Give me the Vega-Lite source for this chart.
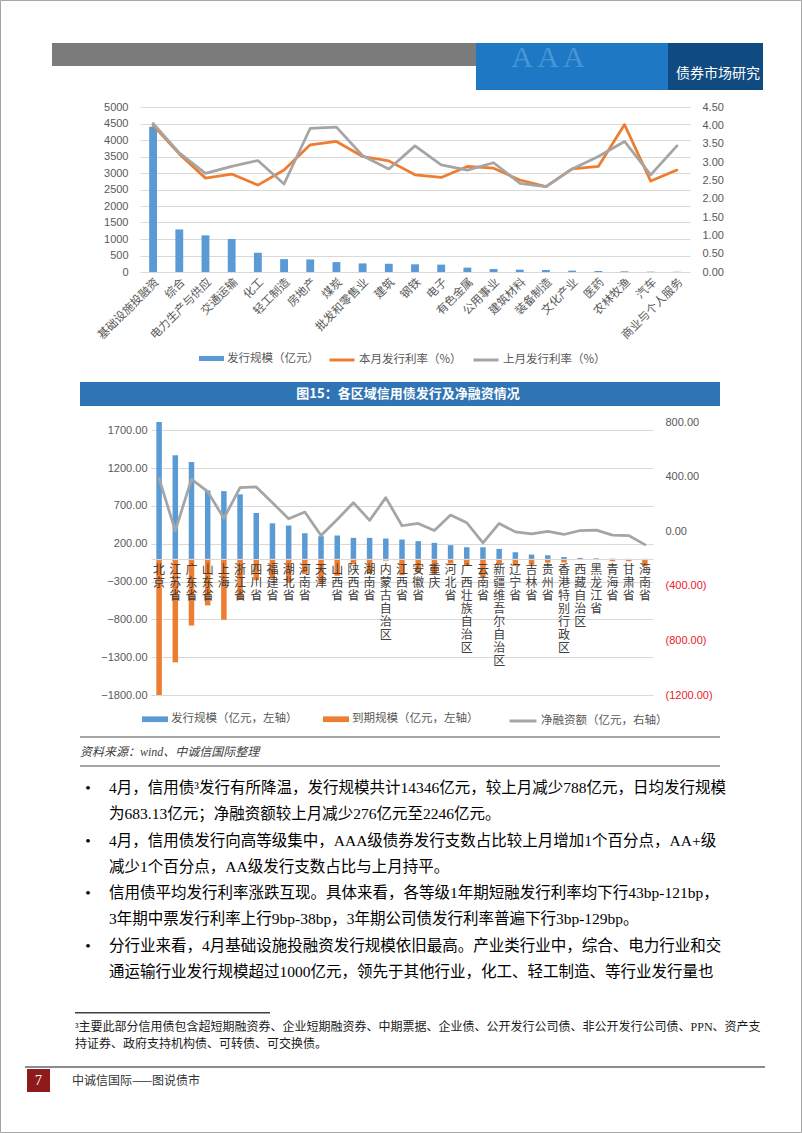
{
  "width": 802,
  "height": 1133,
  "padding": 0,
  "background": "white",
  "config": {"view": {"stroke": null}, "font": "Noto Sans CJK SC"},
  "layer": [
    {"data": {"values": [{}]}, "mark": {"type": "rect", "fill": "white", "fillOpacity": 0, "stroke": "#a6a6a6", "strokeWidth": 1},
     "encoding": {"x": {"value": 0.5}, "x2": {"value": 801.5}, "y": {"value": 0.5}, "y2": {"value": 1132.5}}},
    {"data": {"values": [{}]}, "mark": {"type": "rect", "fill": "#7b7b7b"},
     "encoding": {"x": {"value": 52}, "x2": {"value": 476}, "y": {"value": 43}, "y2": {"value": 66}}},
    {"data": {"values": [{}]}, "mark": {"type": "rect", "fill": "#1f78c4"},
     "encoding": {"x": {"value": 476}, "x2": {"value": 763}, "y": {"value": 43}, "y2": {"value": 90}}},
    {"data": {"values": [{}]}, "mark": {"type": "rect", "fill": "#0f4a80"},
     "encoding": {"x": {"value": 668}, "x2": {"value": 763}, "y": {"value": 43}, "y2": {"value": 90}}},
    {"data": {"values": [{"t": "A  A  A"}]}, "mark": {"type": "text", "font": "Liberation Serif", "fontSize": 30, "color": "#8fd0f7", "opacity": 0.35},
     "encoding": {"x": {"value": 548}, "y": {"value": 58}, "text": {"field": "t"}}},
    {"data": {"values": [{"t": "债券市场研究"}]}, "mark": {"type": "text", "fontSize": 14, "color": "white", "align": "right"},
     "encoding": {"x": {"value": 760}, "y": {"value": 74}, "text": {"field": "t"}}},
    {"data": {"values": [{}]}, "mark": {"type": "rect", "fill": "#2f74b5"},
     "encoding": {"x": {"value": 80}, "x2": {"value": 720}, "y": {"value": 382}, "y2": {"value": 406}}},
    {"data": {"values": [{"t": "图15：各区域信用债发行及净融资情况"}]}, "mark": {"type": "text", "fontSize": 13, "fontWeight": "bold", "color": "white"},
     "encoding": {"x": {"value": 408}, "y": {"value": 394}, "text": {"field": "t"}}},
    {"data": {"values": [{}]}, "mark": {"type": "rect", "fill": "#a6a6a6"},
     "encoding": {"x": {"value": 80}, "x2": {"value": 720}, "y": {"value": 736}, "y2": {"value": 738}}},
    {"data": {"values": [{}]}, "mark": {"type": "rect", "fill": "#a6a6a6"},
     "encoding": {"x": {"value": 80}, "x2": {"value": 720}, "y": {"value": 765}, "y2": {"value": 767}}},
    {"data": {"values": [{"t": "资料来源：wind、中诚信国际整理"}]}, "mark": {"type": "text", "align": "left", "font": "Liberation Serif, Noto Sans CJK SC", "fontStyle": "italic", "fontSize": 12, "color": "#404040"},
     "encoding": {"x": {"value": 80}, "y": {"value": 752}, "text": {"field": "t"}}},
    {
      "data": {"values": [
        {"行": 1, "项目符号": "•", "文本": "4月，信用债³发行有所降温，发行规模共计14346亿元，较上月减少788亿元，日均发行规模"},
        {"行": 2, "项目符号": "", "文本": "为683.13亿元；净融资额较上月减少276亿元至2246亿元。"},
        {"行": 3, "项目符号": "•", "文本": "4月，信用债发行向高等级集中，AAA级债券发行支数占比较上月增加1个百分点，AA+级"},
        {"行": 4, "项目符号": "", "文本": "减少1个百分点，AA级发行支数占比与上月持平。"},
        {"行": 5, "项目符号": "•", "文本": "信用债平均发行利率涨跌互现。具体来看，各等级1年期短融发行利率均下行43bp-121bp，"},
        {"行": 6, "项目符号": "", "文本": "3年期中票发行利率上行9bp-38bp，3年期公司债发行利率普遍下行3bp-129bp。"},
        {"行": 7, "项目符号": "•", "文本": "分行业来看，4月基础设施投融资发行规模依旧最高。产业类行业中，综合、电力行业和交"},
        {"行": 8, "项目符号": "", "文本": "通运输行业发行规模超过1000亿元，领先于其他行业，化工、轻工制造、等行业发行量也"}
      ]},
      "layer": [
        {"mark": {"type": "text", "font": "Liberation Serif", "fontSize": 15.5, "color": "#000000"},
         "encoding": {"x": {"value": 88}, "y": {"field": "行", "type": "ordinal", "axis": null, "scale": {"type": "point", "range": [788, 972], "padding": 0}}, "text": {"field": "项目符号"}}},
        {"mark": {"type": "text", "align": "left", "font": "Liberation Serif, Noto Sans CJK SC", "fontSize": 15.5, "color": "#000000"},
         "encoding": {"x": {"value": 109}, "y": {"field": "行", "type": "ordinal", "axis": null}, "text": {"field": "文本"}}}
      ]
    },
    {"data": {"values": [{}]}, "mark": {"type": "rect", "fill": "#404040"},
     "encoding": {"x": {"value": 75}, "x2": {"value": 270}, "y": {"value": 1012}, "y2": {"value": 1013.5}}},
    {"data": {"values": [
        {"行": 1, "文本": "　³主要此部分信用债包含超短期融资券、企业短期融资券、中期票据、企业债、公开发行公司债、非公开发行公司债、PPN、资产支"},
        {"行": 2, "文本": "持证券、政府支持机构债、可转债、可交换债。"}
      ]},
     "mark": {"type": "text", "align": "left", "font": "Liberation Serif, Noto Sans CJK SC", "fontSize": 12, "color": "#1a1a1a"},
     "encoding": {"x": {"value": 75}, "y": {"field": "行", "type": "ordinal", "axis": null, "scale": {"type": "point", "range": [1027, 1044], "padding": 0}}, "text": {"field": "文本"}}},
    {"data": {"values": [{}]}, "mark": {"type": "rect", "fill": "#8c8c8c"},
     "encoding": {"x": {"value": 25}, "x2": {"value": 765}, "y": {"value": 1066}, "y2": {"value": 1068}}},
    {"data": {"values": [{}]}, "mark": {"type": "rect", "fill": "#8e1b1b"},
     "encoding": {"x": {"value": 27}, "x2": {"value": 50}, "y": {"value": 1069}, "y2": {"value": 1092}}},
    {"data": {"values": [{"t": "7"}]}, "mark": {"type": "text", "font": "Liberation Serif", "fontSize": 14, "color": "white"},
     "encoding": {"x": {"value": 38.5}, "y": {"value": 1081}, "text": {"field": "t"}}},
    {"data": {"values": [{"t": "中诚信国际——图说债市"}]}, "mark": {"type": "text", "align": "left", "fontSize": 12, "color": "#333333"},
     "encoding": {"x": {"value": 72}, "y": {"value": 1081}, "text": {"field": "t"}}},
    {
      "data": {"values": [
        {"行业": "基础设施投融资", "发行规模": 4400, "本月发行利率（%）": 4.00, "上月发行利率（%）": 4.05},
        {"行业": "综合", "发行规模": 1290, "本月发行利率（%）": 3.22, "上月发行利率（%）": 3.25},
        {"行业": "电力生产与供应", "发行规模": 1110, "本月发行利率（%）": 2.56, "上月发行利率（%）": 2.69},
        {"行业": "交通运输", "发行规模": 1000, "本月发行利率（%）": 2.67, "上月发行利率（%）": 2.88},
        {"行业": "化工", "发行规模": 580, "本月发行利率（%）": 2.37, "上月发行利率（%）": 3.04},
        {"行业": "轻工制造", "发行规模": 390, "本月发行利率（%）": 2.78, "上月发行利率（%）": 2.40},
        {"行业": "房地产", "发行规模": 380, "本月发行利率（%）": 3.47, "上月发行利率（%）": 3.92},
        {"行业": "煤炭", "发行规模": 300, "本月发行利率（%）": 3.56, "上月发行利率（%）": 3.95},
        {"行业": "批发和零售业", "发行规模": 260, "本月发行利率（%）": 3.15, "上月发行利率（%）": 3.17},
        {"行业": "建筑", "发行规模": 250, "本月发行利率（%）": 3.03, "上月发行利率（%）": 2.81},
        {"行业": "钢铁", "发行规模": 233, "本月发行利率（%）": 2.65, "上月发行利率（%）": 3.44},
        {"行业": "电子", "发行规模": 223, "本月发行利率（%）": 2.58, "上月发行利率（%）": 2.92},
        {"行业": "有色金属", "发行规模": 132, "本月发行利率（%）": 2.88, "上月发行利率（%）": 2.78},
        {"行业": "公用事业", "发行规模": 91, "本月发行利率（%）": 2.83, "上月发行利率（%）": 2.98},
        {"行业": "建筑材料", "发行规模": 71, "本月发行利率（%）": 2.51, "上月发行利率（%）": 2.42},
        {"行业": "装备制造", "发行规模": 61, "本月发行利率（%）": 2.33, "上月发行利率（%）": 2.33},
        {"行业": "文化产业", "发行规模": 41, "本月发行利率（%）": 2.81, "上月发行利率（%）": 2.81},
        {"行业": "医药", "发行规模": 30, "本月发行利率（%）": 2.88, "上月发行利率（%）": 3.15},
        {"行业": "农林牧渔", "发行规模": 20, "本月发行利率（%）": 4.02, "上月发行利率（%）": 3.56},
        {"行业": "汽车", "发行规模": 10, "本月发行利率（%）": 2.48, "上月发行利率（%）": 2.65},
        {"行业": "商业与个人服务", "发行规模": 8, "本月发行利率（%）": 2.78, "上月发行利率（%）": 3.44}
      ]},
      "layer": [
        {
          "mark": {"type": "bar", "width": {"band": 0.3}},
          "encoding": {
            "x": {"field": "行业", "type": "nominal",
              "sort": ["基础设施投融资", "综合", "电力生产与供应", "交通运输", "化工", "轻工制造", "房地产", "煤炭", "批发和零售业", "建筑", "钢铁", "电子", "有色金属", "公用事业", "建筑材料", "装备制造", "文化产业", "医药", "农林牧渔", "汽车", "商业与个人服务"],
              "scale": {"range": [140, 690], "paddingInner": 0, "paddingOuter": 0},
              "axis": {"orient": "bottom", "offset": -861, "title": null, "labelAngle": -45, "labelFont": "Noto Sans CJK SC", "labelFontSize": 11.5, "labelColor": "#595959", "labelPadding": 4, "labelOverlap": false, "domain": false, "ticks": false, "grid": false}},
            "y": {"field": "发行规模", "type": "quantitative", "scale": {"domain": [0, 5000], "range": [272, 107], "nice": false, "zero": false},
              "axis": {"orient": "left", "offset": -140, "title": null, "values": [0, 500, 1000, 1500, 2000, 2500, 3000, 3500, 4000, 4500, 5000], "format": "d", "grid": true, "gridColor": "#d9d9d9", "labelFont": "Liberation Sans", "labelFontSize": 11, "labelColor": "#595959", "labelPadding": 12, "domain": false, "ticks": false}},
            "fill": {"datum": "发行规模（亿元）", "type": "nominal",
              "scale": {"domain": ["发行规模（亿元）"], "range": ["#5b9bd5"]},
              "legend": {"title": null, "orient": "none", "legendX": 199, "legendY": 346, "labelFont": "Noto Sans CJK SC", "labelFontSize": 11.5, "labelColor": "#595959", "labelOffset": 3, "symbolType": "M-1,-0.2H1V0.2H-1Z", "symbolSize": 625, "symbolStrokeWidth": 0}}
          }
        },
        {
          "transform": [{"fold": ["本月发行利率（%）", "上月发行利率（%）"], "as": ["系列", "利率"]}],
          "mark": {"type": "line", "strokeWidth": 2.75, "strokeJoin": "round", "strokeCap": "round"},
          "encoding": {
            "x": {"field": "行业", "type": "nominal",
              "sort": ["基础设施投融资", "综合", "电力生产与供应", "交通运输", "化工", "轻工制造", "房地产", "煤炭", "批发和零售业", "建筑", "钢铁", "电子", "有色金属", "公用事业", "建筑材料", "装备制造", "文化产业", "医药", "农林牧渔", "汽车", "商业与个人服务"]},
            "y": {"field": "利率", "type": "quantitative", "scale": {"domain": [0, 4.5], "range": [272, 107], "nice": false, "zero": false},
              "axis": {"orient": "right", "offset": -112, "title": null, "values": [0, 0.5, 1, 1.5, 2, 2.5, 3, 3.5, 4, 4.5], "format": ".2f", "grid": false, "labelFont": "Liberation Sans", "labelFontSize": 11, "labelColor": "#595959", "labelPadding": 12, "domain": false, "ticks": false}},
            "stroke": {"field": "系列", "type": "nominal",
              "scale": {"domain": ["本月发行利率（%）", "上月发行利率（%）"], "range": ["#ed7d31", "#a5a5a5"]},
              "legend": {"title": null, "orient": "none", "legendX": 328, "legendY": 346, "direction": "horizontal", "labelFont": "Noto Sans CJK SC", "labelFontSize": 11.5, "labelColor": "#595959", "labelOffset": 3, "columnPadding": 5, "symbolType": "stroke", "symbolSize": 625, "symbolStrokeWidth": 3}}
          }
        }
      ],
      "resolve": {"scale": {"y": "independent"}}
    },
    {
      "data": {"values": [
        {"地区": "北京", "发行规模（亿元，左轴）": 1810, "到期规模（亿元，左轴）": -1800, "净融资额（亿元，右轴）": 386},
        {"地区": "江苏省", "发行规模（亿元，左轴）": 1370, "到期规模（亿元，左轴）": -1368, "净融资额（亿元，右轴）": 3},
        {"地区": "广东省", "发行规模（亿元，左轴）": 1281, "到期规模（亿元，左轴）": -881, "净融资额（亿元，右轴）": 381},
        {"地区": "山东省", "发行规模（亿元，左轴）": 905, "到期规模（亿元，左轴）": -615, "净融资额（亿元，右轴）": 290},
        {"地区": "上海", "发行规模（亿元，左轴）": 896, "到期规模（亿元，左轴）": -805, "净融资额（亿元，右轴）": 94},
        {"地区": "浙江省", "发行规模（亿元，左轴）": 853, "到期规模（亿元，左轴）": -533, "净融资额（亿元，右轴）": 320},
        {"地区": "四川省", "发行规模（亿元，左轴）": 607, "到期规模（亿元，左轴）": -283, "净融资额（亿元，右轴）": 324},
        {"地区": "福建省", "发行规模（亿元，左轴）": 470, "到期规模（亿元，左轴）": -261, "净融资额（亿元，右轴）": 209},
        {"地区": "湖北省", "发行规模（亿元，左轴）": 441, "到期规模（亿元，左轴）": -320, "净融资额（亿元，右轴）": 91},
        {"地区": "河南省", "发行规模（亿元，左轴）": 339, "到期规模（亿元，左轴）": -199, "净融资额（亿元，右轴）": 140},
        {"地区": "天津", "发行规模（亿元，左轴）": 300, "到期规模（亿元，左轴）": -332, "净融资额（亿元，右轴）": -32},
        {"地区": "山西省", "发行规模（亿元，左轴）": 309, "到期规模（亿元，左轴）": -223, "净融资额（亿元，右轴）": 86},
        {"地区": "陕西省", "发行规模（亿元，左轴）": 278, "到期规模（亿元，左轴）": -69, "净融资额（亿元，右轴）": 209},
        {"地区": "湖南省", "发行规模（亿元，左轴）": 278, "到期规模（亿元，左轴）": -199, "净融资额（亿元，右轴）": 79},
        {"地区": "内蒙古自治区", "发行规模（亿元，左轴）": 269, "到期规模（亿元，左轴）": -23, "净融资额（亿元，右轴）": 246},
        {"地区": "江西省", "发行规模（亿元，左轴）": 256, "到期规模（亿元，左轴）": -216, "净融资额（亿元，右轴）": 40},
        {"地区": "安徽省", "发行规模（亿元，左轴）": 234, "到期规模（亿元，左轴）": -177, "净融资额（亿元，右轴）": 57},
        {"地区": "重庆", "发行规模（亿元，左轴）": 212, "到期规模（亿元，左轴）": -207, "净融资额（亿元，右轴）": 5},
        {"地区": "河北省", "发行规模（亿元，左轴）": 181, "到期规模（亿元，左轴）": -63, "净融资额（亿元，右轴）": 118},
        {"地区": "广西壮族自治区", "发行规模（亿元，左轴）": 154, "到期规模（亿元，左轴）": -92, "净融资额（亿元，右轴）": 62},
        {"地区": "云南省", "发行规模（亿元，左轴）": 154, "到期规模（亿元，左轴）": -240, "净融资额（亿元，右轴）": -86},
        {"地区": "新疆维吾尔自治区", "发行规模（亿元，左轴）": 132, "到期规模（亿元，左轴）": -75, "净融资额（亿元，右轴）": 57},
        {"地区": "辽宁省", "发行规模（亿元，左轴）": 88, "到期规模（亿元，左轴）": -93, "净融资额（亿元，右轴）": -5},
        {"地区": "吉林省", "发行规模（亿元，左轴）": 57, "到期规模（亿元，左轴）": -76, "净融资额（亿元，右轴）": -19},
        {"地区": "贵州省", "发行规模（亿元，左轴）": 48, "到期规模（亿元，左轴）": -50, "净融资额（亿元，右轴）": -2},
        {"地区": "香港特别行政区", "发行规模（亿元，左轴）": 25, "到期规模（亿元，左轴）": -49, "净融资额（亿元，右轴）": -24},
        {"地区": "西藏自治区", "发行规模（亿元，左轴）": 13, "到期规模（亿元，左轴）": -8, "净融资额（亿元，右轴）": 5},
        {"地区": "黑龙江省", "发行规模（亿元，左轴）": 8, "到期规模（亿元，左轴）": 0, "净融资额（亿元，右轴）": 8},
        {"地区": "青海省", "发行规模（亿元，左轴）": 3, "到期规模（亿元，左轴）": -32, "净融资额（亿元，右轴）": -29},
        {"地区": "甘肃省", "发行规模（亿元，左轴）": 0, "到期规模（亿元，左轴）": -32, "净融资额（亿元，右轴）": -32},
        {"地区": "海南省", "发行规模（亿元，左轴）": 0, "到期规模（亿元，左轴）": -98, "净融资额（亿元，右轴）": -98}
      ]},
      "layer": [
        {
          "transform": [{"fold": ["发行规模（亿元，左轴）", "到期规模（亿元，左轴）"], "as": ["系列", "规模"]}],
          "mark": {"type": "bar", "width": {"band": 0.34}},
          "encoding": {
            "x": {"field": "地区", "type": "nominal",
              "sort": ["北京", "江苏省", "广东省", "山东省", "上海", "浙江省", "四川省", "福建省", "湖北省", "河南省", "天津", "山西省", "陕西省", "湖南省", "内蒙古自治区", "江西省", "安徽省", "重庆", "河北省", "广西壮族自治区", "云南省", "新疆维吾尔自治区", "辽宁省", "吉林省", "贵州省", "香港特别行政区", "西藏自治区", "黑龙江省", "青海省", "甘肃省", "海南省"],
              "scale": {"range": [151, 653], "paddingInner": 0, "paddingOuter": 0},
              "axis": {"title": null, "orient": "bottom", "offset": -574, "zindex": 1, "labelAngle": 0, "labelAlign": "center", "labelBaseline": "top", "labelExpr": "split(datum.label, '')", "labelFont": "Noto Sans CJK SC", "labelFontSize": 12, "labelLineHeight": 13, "labelColor": "#404040", "labelPadding": 5, "labelOverlap": false, "labelBound": false, "labelFlush": false, "domain": true, "domainColor": "#d9d9d9", "domainWidth": 1, "ticks": false, "grid": false}},
            "y": {"field": "规模", "type": "quantitative", "stack": null, "scale": {"domain": [-1800, 1810], "range": [695, 422], "nice": false, "zero": false},
              "axis": {"orient": "left", "offset": -151, "title": null, "values": [-1800, -1300, -800, -300, 200, 700, 1200, 1700], "format": ".2f", "grid": true, "gridColor": "#d9d9d9", "labelFont": "Liberation Sans", "labelFontSize": 11, "labelColor": "#595959", "labelPadding": 4, "domain": false, "ticks": false}},
            "fill": {"field": "系列", "type": "nominal",
              "scale": {"domain": ["发行规模（亿元，左轴）", "到期规模（亿元，左轴）"], "range": ["#5b9bd5", "#ed7d31"]},
              "legend": {"title": null, "orient": "none", "legendX": 142, "legendY": 706, "direction": "horizontal", "labelFont": "Noto Sans CJK SC", "labelFontSize": 11.5, "labelColor": "#595959", "labelOffset": 3, "columnPadding": 25, "symbolType": "M-1,-0.22H1V0.22H-1Z", "symbolSize": 676, "symbolStrokeWidth": 0}}
          }
        },
        {
          "mark": {"type": "line", "strokeWidth": 2.75, "strokeJoin": "round", "strokeCap": "round"},
          "encoding": {
            "x": {"field": "地区", "type": "nominal",
              "sort": ["北京", "江苏省", "广东省", "山东省", "上海", "浙江省", "四川省", "福建省", "湖北省", "河南省", "天津", "山西省", "陕西省", "湖南省", "内蒙古自治区", "江西省", "安徽省", "重庆", "河北省", "广西壮族自治区", "云南省", "新疆维吾尔自治区", "辽宁省", "吉林省", "贵州省", "香港特别行政区", "西藏自治区", "黑龙江省", "青海省", "甘肃省", "海南省"]},
            "y": {"field": "净融资额（亿元，右轴）", "type": "quantitative", "scale": {"domain": [-1200, 800], "range": [695, 422], "nice": false, "zero": false},
              "axis": {"orient": "right", "offset": -149, "title": null, "values": [-1200, -800, -400, 0, 400, 800], "labelExpr": "datum.value < 0 ? '(' + format(-datum.value, '.2f') + ')' : format(datum.value, '.2f')", "labelColor": {"condition": {"test": "datum.value < 0", "value": "#e8212a"}, "value": "#595959"}, "grid": false, "labelFont": "Liberation Sans", "labelFontSize": 11, "labelPadding": 12, "domain": false, "ticks": false}},
            "stroke": {"datum": "净融资额（亿元，右轴）", "type": "nominal",
              "scale": {"domain": ["净融资额（亿元，右轴）"], "range": ["#a5a5a5"]},
              "legend": {"title": null, "orient": "none", "legendX": 508, "legendY": 706, "labelFont": "Noto Sans CJK SC", "labelFontSize": 11.5, "labelColor": "#595959", "labelOffset": 3, "symbolType": "stroke", "symbolSize": 729, "symbolStrokeWidth": 3}}
          }
        }
      ],
      "resolve": {"scale": {"y": "independent"}}
    }
  ],
  "resolve": {"scale": {"x": "independent", "y": "independent", "fill": "independent", "stroke": "independent"}}
}
